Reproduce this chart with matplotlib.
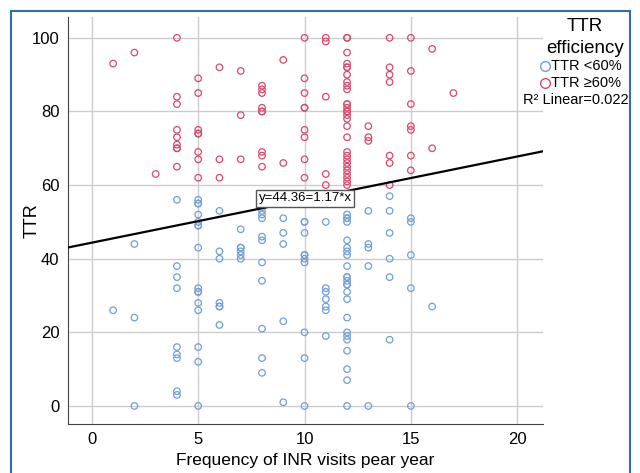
import matplotlib
matplotlib.use('Agg')
import matplotlib.pyplot as plt
from matplotlib.lines import Line2D
from matplotlib.patches import Rectangle

plt.rcParams['font.family'] = ['Liberation Sans', 'DejaVu Sans']

# TTR >= 60% group: visits per year and TTR
visits_hi = [1, 2, 3,
             4, 4, 4, 4, 4, 4, 4, 4, 4,
             5, 5, 5, 5, 5, 5, 5, 5,
             6, 6, 6,
             7, 7, 7,
             8, 8, 8, 8, 8, 8, 8, 8, 8,
             9, 9,
             10, 10, 10, 10, 10, 10, 10, 10, 10,
             11, 11, 11, 11, 11,
             12, 12, 12, 12, 12, 12, 12, 12, 12, 12, 12, 12, 12, 12, 12,
             12, 12, 12, 12, 12, 12, 12, 12, 12, 12, 12, 12, 12, 12,
             13, 13, 13,
             14, 14, 14, 14, 14, 14, 14,
             15, 15, 15, 15, 15, 15, 15,
             16, 16, 17]
ttr_hi = [93, 96, 63,
          100, 84, 82, 75, 73, 71, 70, 70, 65,
          89, 85, 75, 74, 74, 69, 67, 62,
          92, 67, 62,
          91, 79, 67,
          87, 86, 85, 81, 80, 80, 69, 68, 65,
          94, 66,
          100, 89, 85, 81, 81, 75, 73, 67, 62,
          100, 99, 84, 63, 60,
          100, 100, 96, 93, 92, 92, 90, 88, 87, 86, 82, 82, 81, 80, 80,
          79, 78, 76, 73, 69, 68, 67, 66, 65, 64, 63, 62, 61, 60,
          76, 73, 72,
          100, 92, 90, 88, 68, 66, 60,
          100, 91, 82, 76, 75, 68, 64,
          97, 70, 85]

# TTR < 60% group
visits_lo = [1, 2, 2, 2,
             4, 4, 4, 4, 4, 4, 4, 4, 4,
             5, 5, 5, 5, 5, 5, 5, 5, 5, 5, 5, 5, 5, 5, 5, 5,
             6, 6, 6, 6, 6, 6, 6,
             7, 7, 7, 7, 7, 7,
             8, 8, 8, 8, 8, 8, 8, 8, 8, 8, 8,
             9, 9, 9, 9, 9,
             10, 10, 10, 10, 10, 10, 10, 10, 10, 10,
             11, 11, 11, 11, 11, 11, 11,
             12, 12, 12, 12, 12, 12, 12, 12, 12, 12, 12, 12,
             12, 12, 12, 12, 12, 12, 12, 12, 12, 12, 12, 12,
             13, 13, 13, 13, 13,
             14, 14, 14, 14, 14, 14,
             15, 15, 15, 15, 15,
             16]
ttr_lo = [26, 44, 24, 0,
          56, 38, 35, 32, 16, 14, 13, 4, 3,
          56, 55, 55, 52, 50, 49, 49, 43, 32, 31, 31, 28, 26, 16, 12, 0,
          53, 42, 40, 28, 27, 27, 22,
          48, 43, 43, 42, 41, 40,
          54, 53, 52, 51, 46, 45, 39, 34, 21, 13, 9,
          51, 47, 44, 23, 1,
          50, 50, 47, 41, 41, 40, 39, 20, 13, 0,
          50, 32, 31, 29, 27, 26, 19,
          52, 51, 51, 50, 45, 43, 42, 41, 38, 35, 35, 34,
          33, 33, 31, 29, 24, 20, 19, 18, 15, 10, 7, 0,
          53, 44, 43, 38, 0,
          57, 53, 47, 40, 35, 18,
          51, 50, 41, 32, 0,
          27]

intercept = 44.36
slope = 1.17
r2 = 0.022

blue = '#6f9fd8'
red = '#d8486c'

fig = plt.figure(figsize=(6.4, 4.73), dpi=100)
ax = fig.add_axes([0.106, 0.1036, 0.742, 0.860])

ax.scatter(visits_lo, ttr_lo, s=22, facecolors='none', edgecolors=blue, linewidths=0.9, zorder=3)
ax.scatter(visits_hi, ttr_hi, s=22, facecolors='none', edgecolors=red, linewidths=0.9, zorder=3)

xmin, xmax = -1.13, 21.2
ax.plot([xmin, xmax], [intercept + slope * xmin, intercept + slope * xmax], color='black', lw=1.6, zorder=4)
ax.text(7.85, 56.4, 'y=44.36=1.17*x', fontsize=9.5, va='center', ha='left', zorder=5,
        bbox=dict(boxstyle='square,pad=0.2', fc='white', ec='#555555', lw=1))

ax.set_xlim(xmin, xmax)
ax.set_ylim(-4.9, 105.6)
ax.set_xticks([0, 5, 10, 15, 20])
ax.set_yticks([0, 20, 40, 60, 80, 100])
ax.grid(True, color='#cccccc', lw=1)
ax.set_axisbelow(True)
for s in ['top', 'right']:
    ax.spines[s].set_visible(False)
for s in ['left', 'bottom']:
    ax.spines[s].set_color('#444444')
ax.tick_params(length=0, labelsize=12, pad=6)
ax.set_xlabel('Frequency of INR visits pear year', fontsize=12.5, labelpad=4)
ax.set_ylabel('TTR', fontsize=13)
ax.yaxis.set_label_coords(-0.058, 0.5)

# legend outside the axes on the right
fig.text(0.914, 0.943, 'TTR', fontsize=13.5, ha='center', va='center')
fig.text(0.914, 0.898, 'efficiency', fontsize=13.5, ha='center', va='center')
fig.add_artist(Line2D([0.852], [0.860], marker='o', ms=7, mfc='none', mec=blue, mew=1, transform=fig.transFigure))
fig.text(0.861, 0.860, 'TTR <60%', fontsize=10.5, ha='left', va='center')
fig.add_artist(Line2D([0.852], [0.824], marker='o', ms=7, mfc='none', mec=red, mew=1, transform=fig.transFigure))
fig.text(0.861, 0.824, 'TTR \u226560%', fontsize=10.5, ha='left', va='center')
fig.text(0.982, 0.788, 'R\u00b2 Linear=%.3f' % r2, fontsize=10.5, ha='right', va='center')

# blue frame around the figure
fig.add_artist(Rectangle((0.017, -0.05), 0.967, 1.027, transform=fig.transFigure,
                         fill=False, ec='#2f6fb0', lw=1.5))

fig.savefig('out.png', dpi=100)
